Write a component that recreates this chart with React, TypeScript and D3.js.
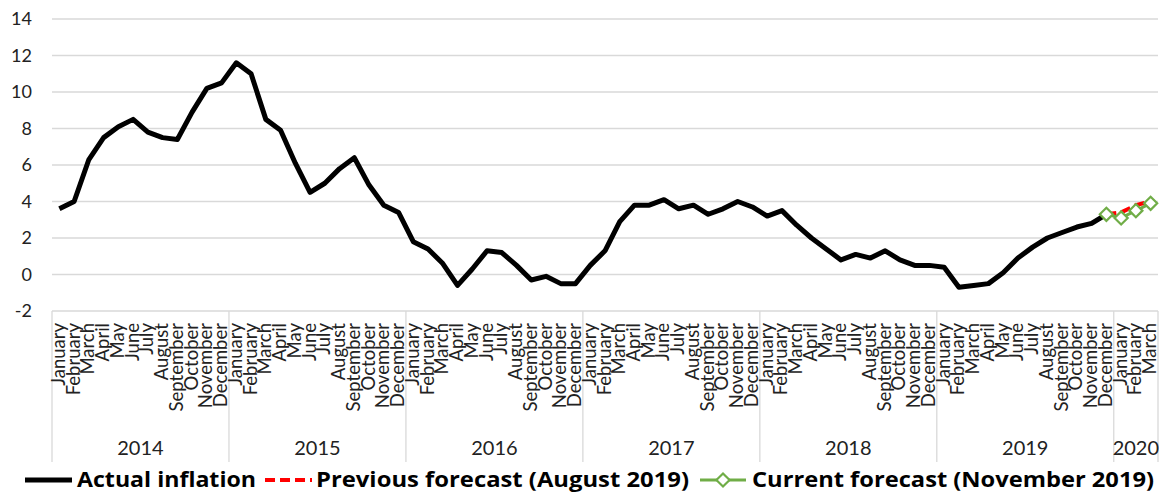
import { useEffect, useRef } from 'react';
import * as d3 from 'd3';

// Inflation data, monthly, Jan 2014 .. Mar 2020
const monthNames = [
  'January', 'February', 'March', 'April', 'May', 'June',
  'July', 'August', 'September', 'October', 'November', 'December',
];
const years = ['2014', '2015', '2016', '2017', '2018', '2019', '2020'];
const monthsInYear = [12, 12, 12, 12, 12, 12, 3];

// Actual inflation, Jan 2014 .. Dec 2019
const actual = [
  3.6, 4.0, 6.3, 7.5, 8.1, 8.5, 7.8, 7.5, 7.4, 8.9, 10.2, 10.5,
  11.6, 11.0, 8.5, 7.9, 6.1, 4.5, 5.0, 5.8, 6.4, 4.9, 3.8, 3.4,
  1.8, 1.4, 0.6, -0.6, 0.3, 1.3, 1.2, 0.5, -0.3, -0.1, -0.5, -0.5,
  0.5, 1.3, 2.9, 3.8, 3.8, 4.1, 3.6, 3.8, 3.3, 3.6, 4.0, 3.7,
  3.2, 3.5, 2.7, 2.0, 1.4, 0.8, 1.1, 0.9, 1.3, 0.8, 0.5, 0.5,
  0.4, -0.7, -0.6, -0.5, 0.1, 0.9, 1.5, 2.0, 2.3, 2.6, 2.8, 3.3,
];
// Forecasts, Dec 2019 .. Mar 2020
const forecastStart = 71;
const previousForecast = [3.3, 3.4, 3.8, 4.0];
const currentForecast = [3.3, 3.1, 3.5, 3.9];
const yTicks = [-2, 0, 2, 4, 6, 8, 10, 12, 14];

const W = 1159;
const H = 493;
const font = 'Lato, "Noto Sans", sans-serif';
const legendFont = '"Open Sans", "Noto Sans", sans-serif';

const App = () => {
  const svgRef = useRef<SVGSVGElement | null>(null);

  useEffect(() => {
    if (!svgRef.current) return;
    const svg = d3.select(svgRef.current);
    svg.selectAll('*').remove();

    const cats: { key: string; month: string; year: string }[] = [];
    years.forEach((yr, yi) => {
      for (let m = 0; m < monthsInYear[yi]; m++) {
        cats.push({ key: `${yr}-${m}`, month: monthNames[m], year: yr });
      }
    });

    const left = 52;
    const right = 1158;
    const top = 19;
    const bottom = 311;

    const x = d3.scaleBand().domain(cats.map((c) => c.key)).range([left, right]).padding(0);
    const y = d3.scaleLinear().domain([-2, 14]).range([bottom, top]);
    const cx = (i: number) => (x(cats[i].key) ?? 0) + x.bandwidth() / 2;

    // gridlines
    svg.append('g')
      .selectAll('line')
      .data(yTicks)
      .join('line')
      .attr('x1', left)
      .attr('x2', right)
      .attr('y1', (d) => y(d))
      .attr('y2', (d) => y(d))
      .attr('stroke', '#d9d9d9')
      .attr('stroke-width', 1.3);

    svg.append('g')
      .selectAll('text')
      .data(yTicks)
      .join('text')
      .attr('x', 32)
      .attr('y', (d) => y(d))
      .attr('dy', '0.35em')
      .attr('text-anchor', 'end')
      .attr('font-family', font)
      .attr('font-size', 18)
      .attr('fill', '#222')
      .text((d) => d);

    // year separators
    let idx = 0;
    const bounds = [0];
    monthsInYear.forEach((n) => { idx += n; bounds.push(idx); });
    const edge = (i: number) => (i < cats.length ? x(cats[i].key) ?? 0 : right);
    svg.append('g')
      .selectAll('line')
      .data(bounds)
      .join('line')
      .attr('x1', (d) => edge(d))
      .attr('x2', (d) => edge(d))
      .attr('y1', bottom)
      .attr('y2', 462)
      .attr('stroke', '#d9d9d9')
      .attr('stroke-width', 1.3);

    // month labels
    svg.append('g')
      .selectAll('text')
      .data(cats)
      .join('text')
      .attr('transform', (_, i) => `translate(${cx(i) + 5.5},${bottom + 12}) rotate(-90)`)
      .attr('text-anchor', 'end')
      .attr('font-family', font)
      .attr('font-size', 18.5)
      .attr('fill', '#222')
      .text((d) => d.month);

    // year labels
    svg.append('g')
      .selectAll('text')
      .data(years)
      .join('text')
      .attr('x', (_, i) => (edge(bounds[i]) + edge(bounds[i + 1])) / 2)
      .attr('y', 455)
      .attr('text-anchor', 'middle')
      .attr('font-family', font)
      .attr('font-size', 20)
      .attr('fill', '#222')
      .text((d) => d);

    // lines
    const line = d3.line<[number, number]>().x((d) => d[0]).y((d) => d[1]);
    svg.append('path')
      .attr('d', line(actual.map((v, i) => [cx(i), y(v)])))
      .attr('fill', 'none')
      .attr('stroke', '#000')
      .attr('stroke-width', 5)
      .attr('stroke-linejoin', 'round');

    svg.append('path')
      .attr('d', line(previousForecast.map((v, i) => [cx(forecastStart + i), y(v)])))
      .attr('fill', 'none')
      .attr('stroke', '#ff0000')
      .attr('stroke-width', 4)
      .attr('stroke-dasharray', '10,5');

    svg.append('path')
      .attr('d', line(currentForecast.map((v, i) => [cx(forecastStart + i), y(v)])))
      .attr('fill', 'none')
      .attr('stroke', '#70ad47')
      .attr('stroke-width', 3);

    const diamond = d3.symbol().type(d3.symbolDiamond2).size(110);
    svg.append('g')
      .selectAll('path')
      .data(currentForecast)
      .join('path')
      .attr('d', diamond)
      .attr('transform', (d, i) => `translate(${cx(forecastStart + i)},${y(d)})`)
      .attr('fill', '#fff')
      .attr('stroke', '#70ad47')
      .attr('stroke-width', 2.2);

    // legend
    const lg = svg.append('g').attr('font-family', legendFont).attr('font-weight', 'bold').attr('font-size', 21.5);
    const ly = 480;
    const base = 487;
    lg.append('line').attr('x1', 25).attr('x2', 72).attr('y1', ly).attr('y2', ly)
      .attr('stroke', '#000').attr('stroke-width', 5);
    lg.append('text').attr('x', 77).attr('y', base)
      .attr('textLength', 179).attr('lengthAdjust', 'spacingAndGlyphs').text('Actual inflation');
    lg.append('line').attr('x1', 265).attr('x2', 312).attr('y1', ly).attr('y2', ly)
      .attr('stroke', '#ff0000').attr('stroke-width', 4).attr('stroke-dasharray', '10,5');
    lg.append('text').attr('x', 316).attr('y', base)
      .attr('textLength', 373).attr('lengthAdjust', 'spacingAndGlyphs').text('Previous forecast (August 2019)');
    lg.append('line').attr('x1', 700).attr('x2', 746).attr('y1', ly).attr('y2', ly)
      .attr('stroke', '#70ad47').attr('stroke-width', 3);
    lg.append('path').attr('d', diamond).attr('transform', `translate(723,${ly})`)
      .attr('fill', '#fff').attr('stroke', '#70ad47').attr('stroke-width', 2.2);
    lg.append('text').attr('x', 752).attr('y', base)
      .attr('textLength', 402).attr('lengthAdjust', 'spacingAndGlyphs').text('Current forecast (November 2019)');
  }, []);

  return (
    <div style={{ position: 'absolute', left: 0, top: 0, background: '#fff' }}>
      <svg ref={svgRef} width={W} height={H}></svg>
    </div>
  );
};

export default App;
